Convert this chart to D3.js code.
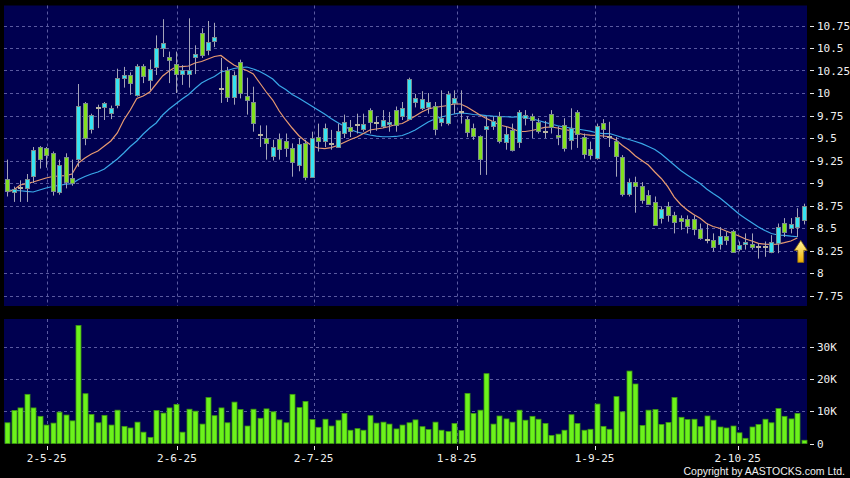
<!DOCTYPE html>
<html>
<head>
<meta charset="utf-8">
<script src="https://cdn.jsdelivr.net/npm/d3@7"></script>
<style>
  html, body { margin: 0; padding: 0; background: #000; }
  svg { display: block; }
</style>
</head>
<body>
<div id="chart"></div>
<script>
// ---- data (daily bars, 23-4-25 .. 17-10-25) ----
var opens = [9.04,8.90,8.955,8.94,9.08,9.40,9.39,9.33,8.90,9.29,
  9.06,9.27,9.89,9.60,9.84,9.85,9.77,9.87,10.17,10.20,
  9.98,10.30,10.15,10.29,10.50,10.40,10.32,10.21,10.21,10.40,
  10.67,10.48,10.57,10.05,10.26,9.96,10.35,9.97,9.90,9.545,
  9.50,9.30,9.49,9.47,9.39,9.20,9.45,9.07,9.51,9.47,
  9.44,9.40,9.56,9.62,9.66,9.61,9.81,9.68,9.63,9.66,
  9.81,9.74,9.71,9.90,9.83,9.84,9.86,9.68,9.67,9.88,
  9.80,9.71,9.61,9.52,9.60,9.63,9.74,9.45,9.59,9.46,
  9.73,9.745,9.68,9.58,9.77,9.53,9.64,9.48,9.79,9.51,
  9.375,9.27,9.67,9.52,9.47,9.29,8.88,9.01,8.97,8.87,
  8.79,8.61,8.74,8.64,8.61,8.60,8.60,8.49,8.38,8.37,
  8.32,8.41,8.47,8.27,8.33,8.32,8.30,8.30,8.24,8.33,
  8.55,8.49,8.51,8.58];

var highs = [9.26,8.96,9.03,9.10,9.40,9.41,9.40,9.35,9.26,9.33,
  9.26,10.10,9.90,9.77,9.87,9.90,9.86,10.27,10.29,10.23,
  10.32,10.32,10.37,10.64,10.82,10.46,10.46,10.31,10.83,10.53,
  10.72,10.80,10.78,10.39,10.29,10.24,10.37,10.17,10.07,9.64,
  9.64,9.48,9.55,9.55,9.44,9.50,9.48,9.57,9.66,9.66,
  9.59,9.66,9.76,9.70,9.77,9.77,9.83,9.74,9.81,9.79,
  9.85,9.90,10.17,9.99,10.02,10.00,9.90,10.03,10.02,10.03,
  10.03,9.74,9.66,9.53,9.74,9.74,9.79,9.63,9.66,9.81,
  9.81,9.77,9.72,9.69,9.81,9.63,9.72,9.83,9.81,9.55,
  9.46,9.66,9.71,9.68,9.51,9.31,9.05,9.07,9.01,8.92,
  8.85,8.74,8.79,8.68,8.64,8.64,8.64,8.55,8.55,8.44,
  8.51,8.46,8.48,8.35,8.44,8.44,8.33,8.35,8.42,8.55,
  8.61,8.61,8.72,8.77];

var lows = [8.85,8.79,8.79,8.79,9.00,9.16,9.17,8.86,8.87,8.94,
  8.97,9.18,9.42,9.55,9.61,9.70,9.71,9.83,10.06,9.98,
  9.96,10.11,10.03,10.20,10.40,10.11,10.00,10.09,10.06,10.21,
  10.39,10.42,10.51,9.89,9.90,9.87,9.94,9.76,9.57,9.40,
  9.26,9.25,9.26,9.29,9.07,9.13,9.03,9.07,9.35,9.40,
  9.37,9.39,9.50,9.51,9.55,9.57,9.55,9.58,9.61,9.57,
  9.57,9.70,9.70,9.84,9.81,9.77,9.53,9.63,9.64,9.77,
  9.66,9.51,9.48,9.09,9.09,9.59,9.44,9.37,9.35,9.39,
  9.64,9.50,9.55,9.50,9.55,9.42,9.35,9.37,9.39,9.27,
  9.26,9.26,9.50,9.40,9.07,8.85,8.85,8.67,8.77,8.76,
  8.53,8.55,8.57,8.44,8.48,8.44,8.42,8.37,8.33,8.24,
  8.26,8.31,8.23,8.24,8.26,8.26,8.16,8.18,8.22,8.22,
  8.40,8.44,8.40,8.54];

var closes = [8.91,8.93,8.955,9.04,9.37,9.27,9.31,8.91,9.20,9.01,
  9.00,9.86,9.50,9.76,9.84,9.89,9.83,10.17,10.20,10.11,
  10.30,10.19,10.27,10.50,10.55,10.37,10.21,10.26,10.26,10.43,
  10.43,10.57,10.62,10.05,9.96,10.20,10.01,9.93,9.67,9.545,
  9.44,9.40,9.38,9.39,9.23,9.43,9.07,9.50,9.47,9.61,
  9.44,9.58,9.68,9.57,9.66,9.66,9.68,9.68,9.70,9.68,
  9.64,9.83,10.16,9.94,9.93,9.90,9.61,9.72,9.99,9.94,
  9.80,9.57,9.52,9.26,9.63,9.69,9.46,9.54,9.37,9.79,
  9.76,9.70,9.58,9.58,9.63,9.51,9.38,9.61,9.55,9.32,
  9.31,9.63,9.60,9.52,9.30,8.88,9.01,8.96,8.81,8.77,
  8.54,8.71,8.64,8.56,8.58,8.52,8.49,8.39,8.38,8.29,
  8.41,8.37,8.24,8.31,8.35,8.29,8.30,8.30,8.35,8.51,
  8.45,8.54,8.62,8.74];

var volumes = [6400,10200,11000,15200,11000,8400,5700,6300,9700,8800,
  7000,36500,15400,9000,6400,8700,5700,10300,5300,4800,
  6600,3500,1900,10200,9400,11000,12100,3500,10600,10000,
  6000,14200,8600,11000,6400,12800,10500,5400,10600,7800,
  10700,9800,7300,6400,15200,11100,13000,7400,5000,7500,
  5400,7200,9300,4100,4600,4100,8600,6300,6600,6000,
  4500,5700,6400,7300,5200,4300,6600,4100,3700,6200,
  4000,15500,9300,10300,21600,6000,8500,7600,6600,10300,
  7200,8400,7500,6200,2500,2900,4100,8900,6200,4100,
  4400,12200,5300,4400,14500,9800,22400,18400,5600,10300,
  10500,5900,6500,14200,8100,7400,7500,5200,8500,7200,
  5100,4800,5400,3300,1600,5100,5900,7500,6400,10800,
  8400,7600,9300,1000];

// moving averages as drawn (orange = short, blue = long)
var maShort = [8.900,8.922,8.978,8.994,9.011,9.033,9.056,9.072,9.078,9.083,
  9.100,9.222,9.278,9.322,9.356,9.411,9.467,9.556,9.700,9.811,
  9.939,9.967,10.011,10.100,10.189,10.244,10.289,10.294,10.300,10.333,
  10.350,10.378,10.406,10.417,10.361,10.311,10.278,10.250,10.211,10.111,
  10.011,9.922,9.800,9.700,9.611,9.528,9.467,9.417,9.389,9.383,
  9.394,9.417,9.450,9.483,9.511,9.550,9.589,9.600,9.611,9.628,
  9.650,9.661,9.700,9.744,9.789,9.822,9.839,9.850,9.861,9.878,
  9.878,9.844,9.800,9.756,9.717,9.683,9.644,9.628,9.606,9.572,
  9.572,9.583,9.600,9.617,9.622,9.611,9.594,9.583,9.556,9.539,
  9.533,9.530,9.522,9.514,9.478,9.417,9.367,9.300,9.250,9.200,
  9.122,9.050,8.959,8.844,8.761,8.700,8.650,8.608,8.550,8.517,
  8.497,8.467,8.439,8.411,8.378,8.356,8.330,8.320,8.319,8.321,
  8.337,8.356,8.389];

var maLong = [8.922,8.919,8.914,8.906,8.900,8.922,8.944,8.961,8.974,8.986,
  8.993,9.039,9.072,9.100,9.122,9.156,9.211,9.267,9.333,9.406,
  9.467,9.544,9.611,9.667,9.756,9.822,9.878,9.933,9.983,10.050,
  10.111,10.150,10.183,10.233,10.250,10.272,10.283,10.289,10.267,10.239,
  10.200,10.156,10.083,10.039,9.983,9.944,9.900,9.856,9.811,9.767,
  9.717,9.672,9.633,9.594,9.567,9.550,9.533,9.520,9.514,9.514,
  9.517,9.528,9.556,9.589,9.633,9.678,9.711,9.733,9.750,9.767,
  9.780,9.772,9.761,9.756,9.748,9.742,9.738,9.736,9.733,9.736,
  9.728,9.714,9.694,9.674,9.656,9.636,9.622,9.611,9.600,9.589,
  9.576,9.558,9.548,9.550,9.528,9.506,9.483,9.461,9.437,9.406,
  9.372,9.322,9.261,9.200,9.139,9.089,9.041,8.994,8.933,8.883,
  8.837,8.778,8.717,8.656,8.606,8.558,8.511,8.472,8.439,8.422,
  8.417,8.409,8.403];

var dateLabels = ["2-5-25", "2-6-25", "2-7-25", "1-8-25", "1-9-25", "2-10-25"];
var dateIndex = [6.1, 26.2, 47.3, 69.4, 90.7, 112.8];   // bar position of each label
var priceTicks = [7.75, 8, 8.25, 8.5, 8.75, 9, 9.25, 9.5, 9.75, 10, 10.25, 10.5, 10.75];
var volTicks = [0, 10000, 20000, 30000];

// ---- layout ----
var W = 850, H = 478;
var left = 4, right = 807;
var mainTop = 5.5, mainBottom = 306;
var volTop = 319, volBottom = 443.5;

var upColor = "#35e3f2", downColor = "#82e11e", dojiColor = "#b8b4a0";
var gridColor = "#5a5aa0";
var labelFont = "'DejaVu Sans Mono', monospace";

var svg = d3.select("#chart")
    .append("svg")
    .attr("width", W)
    .attr("height", H)
    .style("background", "#000");

var n = closes.length;
var x = d3.scaleLinear()
    .domain([-0.5, n - 0.5])
    .range([left, right]);

var y = d3.scaleLinear()
    .domain([7.75, 10.75])
    .range([295.5, 25.5]);

var yv = d3.scaleLinear()
    .domain([0, 30000])
    .range([volBottom, 346.5]);

// panels
svg.append("rect")
    .attr("x", left).attr("y", mainTop)
    .attr("width", right - left).attr("height", mainBottom - mainTop)
    .attr("fill", "#000050");
svg.append("rect")
    .attr("x", left).attr("y", volTop)
    .attr("width", right - left).attr("height", volBottom - volTop)
    .attr("fill", "#000050");

// horizontal grid - price
svg.append("g")
    .selectAll("line")
    .data(priceTicks)
    .enter().append("line")
    .attr("x1", left).attr("x2", right)
    .attr("y1", function (d) { return Math.round(y(d)) + 0.5 })
    .attr("y2", function (d) { return Math.round(y(d)) + 0.5 })
    .attr("stroke", gridColor)
    .attr("stroke-dasharray", "3,3");

// horizontal grid - volume
svg.append("g")
    .selectAll("line")
    .data(volTicks.slice(1))
    .enter().append("line")
    .attr("x1", left).attr("x2", right)
    .attr("y1", function (d) { return Math.round(yv(d)) + 0.5 })
    .attr("y2", function (d) { return Math.round(yv(d)) + 0.5 })
    .attr("stroke", gridColor)
    .attr("stroke-dasharray", "3,3");

// vertical grid (both panels)
[[mainTop, mainBottom], [volTop, volBottom]].forEach(function (p) {
    svg.append("g")
        .selectAll("line")
        .data(dateIndex)
        .enter().append("line")
        .attr("x1", function (d) { return Math.round(x(d)) + 0.5 })
        .attr("x2", function (d) { return Math.round(x(d)) + 0.5 })
        .attr("y1", p[0]).attr("y2", p[1])
        .attr("stroke", gridColor)
        .attr("stroke-dasharray", "3,3");
});

// moving averages
var maLine = d3.line()
    .x(function (d, i) { return x(i) })
    .y(function (d) { return y(d) });

svg.append("path")
    .datum(maLong)
    .attr("fill", "none")
    .attr("stroke", "#3aa8e8")
    .attr("stroke-width", 1.2)
    .attr("d", maLine);

svg.append("path")
    .datum(maShort)
    .attr("fill", "none")
    .attr("stroke", "#e89a70")
    .attr("stroke-width", 1.2)
    .attr("d", maLine);

// candles
var bars = d3.range(n);
var candles = svg.append("g");

candles.selectAll("line")
    .data(bars)
    .enter().append("line")
    .attr("x1", function (i) { return Math.round(x(i)) + 0.5 })
    .attr("x2", function (i) { return Math.round(x(i)) + 0.5 })
    .attr("y1", function (i) { return y(highs[i]) })
    .attr("y2", function (i) { return y(lows[i]) })
    .attr("stroke", "#a4a4b8")
    .attr("stroke-width", 1);

candles.selectAll("rect")
    .data(bars)
    .enter().append("rect")
    .attr("x", function (i) { return Math.round(x(i)) - 1.5 })
    .attr("width", 4)
    .attr("y", function (i) { return Math.round(y(Math.max(opens[i], closes[i]))) + 0.5 })
    .attr("height", function (i) {
        return Math.max(1, Math.round(Math.abs(y(opens[i]) - y(closes[i]))));
    })
    .attr("fill", function (i) {
        if (closes[i] > opens[i]) return upColor;
        if (closes[i] < opens[i]) return downColor;
        return dojiColor;
    })
    .attr("stroke", function (i) { return closes[i] == opens[i] ? dojiColor : "#7c8c90" })
    .attr("stroke-width", 1);

// volume bars
svg.append("g")
    .selectAll("rect")
    .data(bars)
    .enter().append("rect")
    .attr("x", function (i) { return Math.round(x(i)) - 2 })
    .attr("width", 5)
    .attr("y", function (i) { return yv(volumes[i]) })
    .attr("height", function (i) { return volBottom - yv(volumes[i]) })
    .attr("fill", "#6cf21c")
    .attr("stroke", "#3e9a10")
    .attr("stroke-width", 0.8);

// arrow under the latest bar
var defs = svg.append("defs");
var grad = defs.append("linearGradient")
    .attr("id", "arrowGrad")
    .attr("x1", 0).attr("y1", 0).attr("x2", 0).attr("y2", 1);
grad.append("stop").attr("offset", "0%").attr("stop-color", "#fff7a0");
grad.append("stop").attr("offset", "100%").attr("stop-color", "#f0b000");

var last = n - 1;
var ax = x(last) - 3, ay = y(lows[last]) + 16;
svg.append("path")
    .attr("d", "M" + ax + "," + ay +
        " l6.5,10 l-3.5,0 l0,12 l-6,0 l0,-12 l-3.5,0 z")
    .attr("fill", "url(#arrowGrad)")
    .attr("stroke", "#8a6a10")
    .attr("stroke-width", 0.8);

// right axis - price
var pAxis = svg.append("g");
pAxis.selectAll("line")
    .data(priceTicks)
    .enter().append("line")
    .attr("x1", 810).attr("x2", 814)
    .attr("y1", function (d) { return Math.round(y(d)) + 0.5 })
    .attr("y2", function (d) { return Math.round(y(d)) + 0.5 })
    .attr("stroke", "#e8e8e8");
pAxis.selectAll("text")
    .data(priceTicks)
    .enter().append("text")
    .attr("x", 817)
    .attr("y", function (d) { return y(d) + 4 })
    .attr("fill", "#f0f0f0")
    .style("font-family", labelFont)
    .style("font-size", "11px")
    .text(function (d) { return String(d) });

// right axis - volume
var vAxis = svg.append("g");
vAxis.selectAll("line")
    .data(volTicks)
    .enter().append("line")
    .attr("x1", 810).attr("x2", 814)
    .attr("y1", function (d) { return Math.round(yv(d)) + 0.5 })
    .attr("y2", function (d) { return Math.round(yv(d)) + 0.5 })
    .attr("stroke", "#e8e8e8");
vAxis.selectAll("text")
    .data(volTicks)
    .enter().append("text")
    .attr("x", 817)
    .attr("y", function (d) { return yv(d) + 4 })
    .attr("fill", "#f0f0f0")
    .style("font-family", labelFont)
    .style("font-size", "11px")
    .text(function (d) { return d == 0 ? "0" : (d / 1000) + "K" });

// bottom axis - dates
var xAxis = svg.append("g");
xAxis.selectAll("line")
    .data(dateIndex)
    .enter().append("line")
    .attr("x1", function (d) { return Math.round(x(d)) + 0.5 })
    .attr("x2", function (d) { return Math.round(x(d)) + 0.5 })
    .attr("y1", 446).attr("y2", 450)
    .attr("stroke", "#e8e8e8");
xAxis.selectAll("text")
    .data(dateLabels)
    .enter().append("text")
    .attr("x", function (d, i) { return x(dateIndex[i]) })
    .attr("y", 461.5)
    .attr("text-anchor", "middle")
    .attr("fill", "#f0f0f0")
    .style("font-family", labelFont)
    .style("font-size", "11px")
    .text(function (d) { return d });

svg.append("text")
    .attr("x", 845)
    .attr("y", 475)
    .attr("text-anchor", "end")
    .attr("fill", "#f0f0f0")
    .style("font-family", "'Liberation Sans', sans-serif")
    .style("font-size", "10.5px")
    .text("Copyright by AASTOCKS.com Ltd.");
</script>
</body>
</html>
